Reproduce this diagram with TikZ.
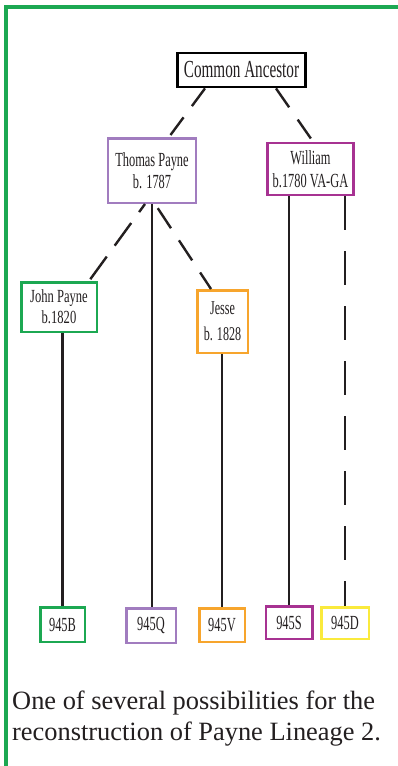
\documentclass[tikz,border=0pt]{standalone}
\usepackage{fontspec}
\setmainfont{Liberation Serif}
\newfontfamily\cnd[FakeStretch=0.62]{Liberation Serif}
\newfontfamily\cndj[FakeStretch=0.68]{Liberation Serif}
\usetikzlibrary{calc}
\definecolor{ink}{RGB}{35,31,32}
\definecolor{grn}{RGB}{28,168,82}
\definecolor{lpurple}{RGB}{161,124,191}
\definecolor{magen}{RGB}{167,50,146}
\definecolor{orng}{RGB}{247,165,45}
\definecolor{yel}{RGB}{250,234,60}
\begin{document}
\begin{tikzpicture}[x=1pt,y=-1pt,
  box/.style={draw, line width=2.5pt, inner sep=0pt, align=center, text=ink,
    font=\cnd\fontsize{20}{22.5}\selectfont},
  link/.style={draw=ink, line width=2.4pt},
  dshtop/.style={link, dash pattern=on 22pt off 14pt},
  dshkid/.style={link, dash pattern=on 28pt off 13.5pt, dash phase=18pt},
  dshjes/.style={link, dash pattern=on 24pt off 14.5pt, dash phase=33.5pt},
  dshvert/.style={link, dash pattern=on 34pt off 21pt},
  captxt/.style={anchor=base west, inner sep=0pt, text=ink, font=\fontsize{26.4}{31}\selectfont}]
\useasboundingbox (0,0) rectangle (397,766);
\fill[white] (0,0) rectangle (397,766);
% frame
\draw[draw=grn, line width=3.2pt, line join=miter] (6,767) coordinate (f1) -- (6,7) coordinate (f2) -- (398,7) coordinate (f3);
% boxes
\node[box, draw=black, line width=2.8pt, minimum width=128pt, minimum height=34pt,
  font=\cnd\fontsize{24.5}{27}\selectfont] (ca) at (241.5,70) {Common Ancestor};
\node[box, draw=lpurple, minimum width=88pt, minimum height=64.5pt] (tp) at (152,170.5) {Thomas Payne\\b. 1787};
\node[box, draw=magen, line width=2.8pt, minimum width=86.5pt, minimum height=52pt] (wm) at (310.5,169) {William\\b.1780 VA-GA};
\node[box, draw=grn, minimum width=75.5pt, minimum height=49.5pt,
  font=\cndj\fontsize{18.5}{21}\selectfont] (jp) at (59,307) {John Payne\\b.1820};
\node[box, draw=orng, minimum width=50.5pt, minimum height=62.5pt,
  font=\cnd\fontsize{19.5}{25.6}\selectfont] (js) at (222.5,321.5) {Jesse\\b. 1828};
\node[box, draw=grn, minimum width=44.5pt, minimum height=34.5pt] (b) at (62.5,624.5) {945B};
\node[box, draw=lpurple, minimum width=49.5pt, minimum height=34.5pt] (q) at (151,625.5) {945Q};
\node[box, draw=orng, minimum width=45.5pt, minimum height=33.5pt] (v) at (222,625) {945V};
\node[box, draw=magen, minimum width=46.5pt, minimum height=32.5pt] (s) at (289,622.5) {945S};
\node[box, draw=yel, minimum width=47.5pt, minimum height=31.5pt] (d) at (345,623) {945D};
% connectors
\draw[dshtop] ($(ca.south)+(-36.5,0)$) -- ($(tp.north)+(17,0)$);
\draw[dshtop, dash pattern=on 23pt off 15pt] ($(ca.south)+(34.5,0)$) -- ($(wm.north)+(2.5,0)$);
\draw[dshkid] ($(tp.south)+(-7,0)$) -- ($(jp.north)+(30,0)$);
\draw[dshjes] ($(tp.south)+(3,0)$) -- ($(js.north)+(-11.5,0)$);
\draw[link] (tp.south) -- (tp.south |- q.north);
\draw[link] (s.north) -- (s.north |- wm.south);
\draw[dshvert] (d.north |- wm.south) -- (d.north);
\draw[link] (b.north) -- (b.north |- jp.south);
\draw[link] (v.north |- js.south) -- (v.north);
% caption
\node[captxt] (cap1) at (12,709) {One of several possibilities for the};
\node[captxt] (cap2) at (12,740) {reconstruction of Payne Lineage 2.};
\end{tikzpicture}
\end{document}
